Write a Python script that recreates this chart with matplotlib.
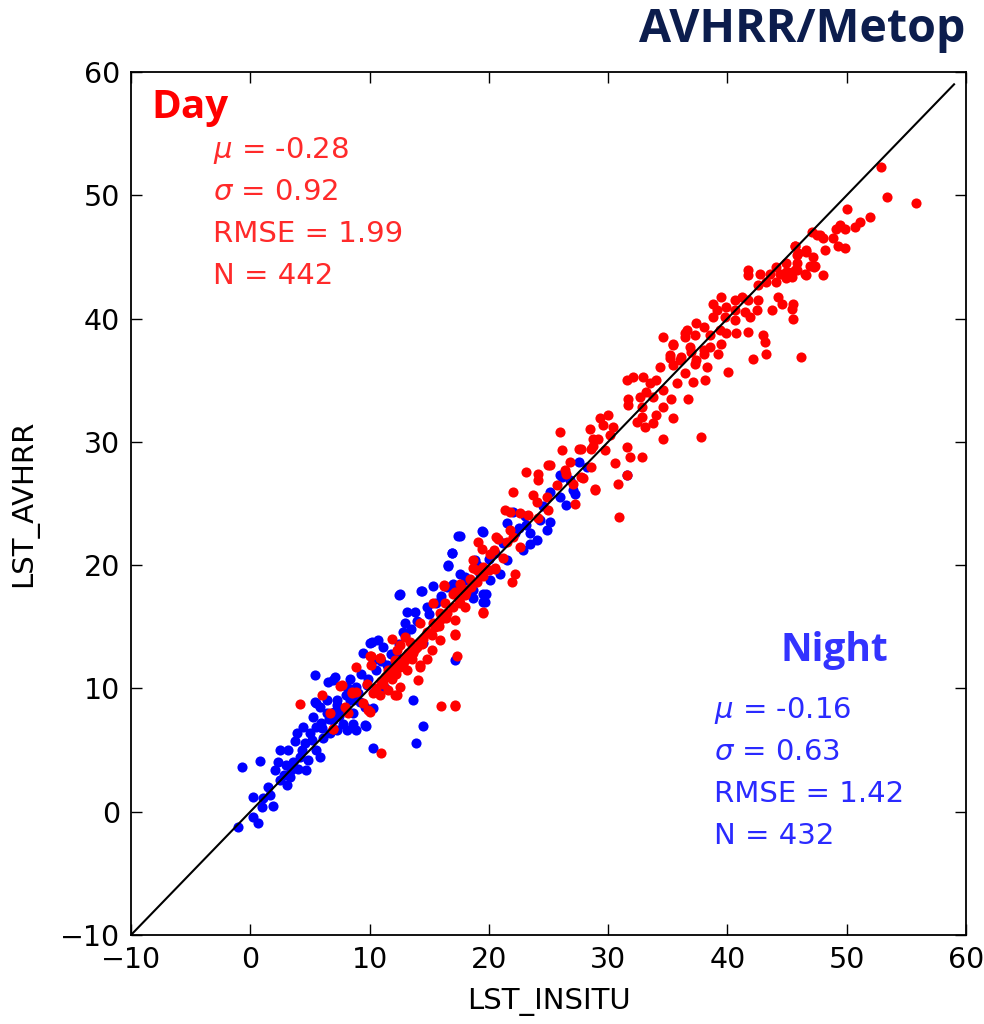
import matplotlib
matplotlib.use("Agg")
import matplotlib.pyplot as plt
import numpy as np

# day points (LST_INSITU, LST_AVHRR)
day_pts = [
    (4.15, 8.75), (6.05, 9.5), (6.7, 8.0), (6.95, 6.7), (7.5, 10.2), (8.2, 8.0), (8.5, 9.6),
    (8.9, 9.7), (9.45, 8.8), (10.0, 8.1), (9.75, 10.4), (10.3, 9.6), (16.0, 8.55), (17.2, 8.55),
    (11.0, 4.8), (17.3, 12.6), (17.15, 14.4), (14.1, 10.7), (14.2, 11.9), (19.55, 16.15),
    (20.5, 19.65), (19.1, 21.9), (20.6, 22.3), (16.2, 18.3), (12.3, 9.45), (8.9, 11.7),
    (6.95, 6.75), (9.9, 8.25), (10.15, 12.6), (10.9, 12.45), (11.9, 14.05),
    (16.2, 18.4), (19.5, 16.2), (17.15, 15.55), (17.15, 14.3), (15.9, 13.9), (15.2, 13.1),
    (14.8, 12.35), (14.2, 11.75), (12.1, 9.45), (17.15, 8.65), (10.0, 12.6), (10.85, 12.5),
    (10.15, 11.9), (8.5, 9.7), (7.65, 10.25), (7.95, 8.5), (10.85, 9.45), (11.15, 10.4),
    (11.85, 10.8), (13.1, 11.5), (12.95, 12.3), (13.65, 12.85), (14.2, 13.8), (14.8, 14.6),
    (14.2, 15.3), (15.35, 15.3), (15.9, 16.1), (16.3, 16.9), (15.35, 16.9), (17.0, 17.7),
    (17.85, 18.1), (17.55, 16.9), (18.0, 16.6), (18.4, 18.9), (19.0, 19.6), (12.3, 13.1),
    (12.55, 13.5), (13.4, 13.8), (12.95, 14.2), (11.55, 11.5), (12.1, 12.3), (12.55, 11.75),
    (13.4, 12.6), (11.55, 9.85), (12.55, 10.1),
    (12.0, 11.6), (12.5, 12.0), (13.0, 12.5), (13.5, 13.0), (14.0, 13.4), (14.5, 14.0),
    (15.0, 14.5), (15.5, 15.0), (16.0, 15.6), (16.5, 16.1), (17.0, 16.6), (17.5, 17.2),
    (18.0, 17.6), (18.5, 18.2), (19.0, 18.6), (19.5, 19.1), (20.0, 19.6), (10.5, 10.0),
    (11.0, 10.6), (11.5, 11.1), (12.8, 12.0), (13.2, 12.9), (13.8, 13.2), (14.4, 13.6),
    (15.2, 14.3), (15.8, 15.1), (16.4, 15.7), (11.3, 10.9), (12.2, 11.2), (13.6, 12.4),
    (26.1, 29.3), (27.6, 29.45), (28.75, 29.7), (25.0, 28.1), (26.5, 27.4), (23.15, 27.55),
    (24.15, 27.4), (24.15, 26.9), (25.7, 26.5), (27.9, 27.05), (28.9, 26.1), (22.0, 25.95),
    (23.7, 25.7), (24.0, 25.1), (24.85, 25.5), (27.05, 26.6), (27.2, 25.0), (21.35, 24.45),
    (21.8, 24.3), (22.6, 24.2), (23.3, 24.05), (24.15, 23.8), (25.0, 24.45), (21.8, 22.85),
    (20.8, 22.15), (19.4, 21.35), (20.4, 21.2), (21.5, 21.9), (22.6, 21.5), (22.05, 22.3),
    (18.7, 19.75), (19.55, 19.85), (20.5, 19.75), (21.2, 20.55), (22.2, 19.3), (21.9, 18.65),
    (17.55, 18.5), (18.1, 17.85), (20.1, 20.9), (18.7, 20.4), (17.15, 17.85),
    (34.6, 38.5), (36.45, 38.8), (35.45, 37.85), (36.85, 37.7), (35.2, 37.05), (36.15, 36.9),
    (37.4, 36.6), (38.0, 37.45), (34.35, 36.1), (35.45, 36.2), (36.45, 35.55), (37.15, 34.85),
    (38.1, 35.0), (31.55, 35.0), (32.1, 35.3), (32.95, 35.3), (33.5, 34.75), (34.05, 35.0),
    (34.6, 34.2), (35.75, 34.75), (33.2, 34.05), (33.8, 33.65), (31.7, 33.5), (31.7, 32.95),
    (32.65, 33.65), (32.8, 32.85), (35.3, 33.5), (36.7, 33.5), (34.6, 32.85), (32.8, 32.05),
    (34.05, 32.15), (35.45, 31.9), (33.8, 31.5), (33.1, 31.2), (32.4, 31.6), (34.6, 30.25),
    (37.8, 30.4), (29.3, 31.9), (30.0, 32.15), (29.6, 31.4), (30.4, 31.2), (28.45, 31.05),
    (30.15, 30.55), (29.15, 30.25), (25.95, 30.8), (27.75, 29.45), (28.6, 29.45),
    (29.75, 29.3), (28.75, 30.25), (31.55, 29.6), (31.85, 28.8), (32.8, 28.8), (30.55, 28.25),
    (28.6, 28.0), (26.8, 28.4), (26.4, 27.7), (27.75, 27.15), (30.85, 26.6), (25.1, 28.1),
    (28.9, 26.2), (31.55, 27.3), (30.9, 23.9),
    (47.5, 46.8), (45.65, 45.85), (46.6, 45.4), (47.2, 45.0), (47.35, 44.3), (45.95, 45.3),
    (45.8, 44.5), (44.95, 44.5), (44.1, 44.2), (43.55, 43.65), (44.4, 43.65), (45.1, 43.8),
    (45.65, 43.95), (46.5, 43.65), (42.7, 43.65), (41.75, 43.95), (41.75, 43.5), (43.25, 42.95),
    (44.1, 42.95), (44.95, 43.25), (42.55, 42.7), (41.2, 41.75), (40.6, 41.5), (41.75, 41.5),
    (42.55, 41.5), (39.5, 41.75), (44.25, 41.75), (44.55, 41.2), (45.5, 41.2), (45.4, 40.8),
    (43.7, 40.7), (45.5, 40.0), (38.8, 41.2), (39.1, 40.7), (39.9, 40.95), (40.6, 40.7),
    (41.45, 40.55), (42.45, 40.7), (38.8, 40.15), (39.8, 40.15), (40.6, 39.9), (41.9, 40.15),
    (37.4, 39.6), (38.0, 39.35), (36.6, 39.1), (36.45, 38.5), (37.25, 38.65), (38.5, 38.65),
    (39.35, 39.05), (39.9, 38.8), (40.75, 38.8), (41.75, 38.9), (43.0, 38.65), (43.15, 38.1),
    (39.5, 37.95), (38.5, 37.7), (39.2, 37.15), (38.0, 37.15), (36.95, 37.3), (35.45, 37.95),
    (36.0, 36.6), (37.25, 36.35), (38.25, 36.1), (43.25, 37.15), (42.15, 36.75), (40.05, 35.7),
    (46.2, 36.9), (35.2, 36.8),
    (52.9, 52.3), (53.35, 49.9), (55.85, 49.4), (50.0, 48.9), (51.95, 48.2), (51.1, 47.85),
    (50.7, 47.45), (49.4, 47.6), (49.85, 47.3), (49.1, 47.3), (47.05, 47.05), (47.75, 46.75),
    (48.05, 46.55), (48.85, 46.55), (45.65, 45.9), (49.3, 45.9), (49.85, 45.7), (48.2, 45.55),
    (45.8, 45.15), (46.6, 45.6), (46.9, 44.3), (47.3, 44.2), (44.95, 43.8), (45.8, 43.95),
    (46.6, 43.5), (48.05, 43.5), (45.4, 43.4),
]

# night points
night_pts = [
    (-0.72, 3.65), (0.81, 4.1), (-1.0, -1.2), (0.25, -0.4), (0.67, -0.9), (0.25, 1.2),
    (1.1, 1.1), (1.9, 0.5), (0.95, 0.4), (1.65, 1.35), (2.5, 2.6), (3.05, 2.2), (2.35, 4.05),
    (2.07, 3.4), (3.3, 2.85), (3.45, 3.4), (2.5, 5.0), (3.2, 5.0), (3.75, 5.7), (4.2, 4.45),
    (4.7, 3.4), (4.0, 3.5), (4.85, 4.2), (5.55, 5.0), (5.85, 4.45), (5.0, 6.35), (5.55, 6.9),
    (5.3, 7.7), (5.85, 8.5), (5.55, 8.8), (6.4, 9.05), (7.25, 8.65), (6.4, 8.0), (6.95, 7.45),
    (6.7, 6.35), (6.1, 5.95), (7.25, 6.6), (7.8, 7.15), (8.1, 6.6), (8.65, 7.15), (8.9, 6.6),
    (9.6, 7.0), (7.65, 8.25), (8.35, 9.05), (8.9, 10.1), (9.75, 10.3), (8.1, 10.1),
    (6.95, 10.7), (10.3, 5.15), (4.45, 6.9), (3.9, 6.35), (4.6, 5.6), (5.9, 7.2), (7.0, 8.1),
    (3.6, 4.0), (4.3, 5.0), (5.2, 5.8), (6.0, 6.8), (6.6, 7.5), (7.4, 7.8), (8.0, 8.4),
    (8.6, 8.0), (9.2, 8.9), (3.0, 3.8), (2.8, 3.0), (1.5, 2.0),
    (17.4, 22.4), (19.5, 22.7), (16.9, 21.0), (16.6, 19.9), (12.5, 17.6), (14.4, 17.9),
    (15.35, 18.3), (13.1, 16.2), (10.0, 13.65), (9.45, 12.85), (5.4, 11.1), (6.55, 10.55),
    (7.1, 10.95), (5.4, 8.9), (13.65, 9.05), (14.5, 6.95), (13.9, 5.55), (9.7, 6.95),
    (19.55, 17.0), (17.15, 12.3),
    (16.6, 20.0), (12.55, 17.7), (14.3, 17.9), (19.0, 20.0), (19.5, 17.7), (19.65, 17.0),
    (18.7, 17.3), (13.8, 16.2), (14.8, 16.6), (12.95, 15.3), (12.8, 14.6), (10.2, 13.8),
    (10.7, 13.9), (11.15, 13.4), (10.3, 12.3), (8.35, 10.8), (9.3, 11.2), (9.9, 10.8),
    (7.25, 9.05), (8.65, 9.05), (9.6, 8.5), (10.3, 8.4), (14.5, 13.65), (11.3, 10.0),
    (10.5, 11.5), (11.0, 12.2), (11.8, 12.8), (12.5, 13.6), (13.0, 14.3), (13.5, 14.8),
    (14.0, 15.5), (15.0, 16.0), (16.0, 17.5), (17.0, 18.5), (18.0, 19.0), (15.6, 16.9),
    (16.5, 18.2), (17.6, 19.3), (11.5, 11.9), (12.2, 12.6), (9.0, 9.6), (8.0, 9.5),
    (17.55, 22.4), (19.4, 22.8), (16.9, 20.95), (18.85, 20.4), (21.5, 23.4), (22.05, 24.35),
    (22.5, 23.0), (23.15, 23.25), (23.45, 22.6), (24.0, 22.05), (24.25, 23.65), (24.85, 22.85),
    (25.1, 23.5), (22.9, 21.2), (23.45, 21.75), (21.5, 20.4), (20.9, 19.3), (20.1, 18.8),
    (19.25, 19.3), (26.5, 24.9), (25.95, 25.55), (25.1, 25.95), (27.05, 26.1), (27.2, 25.8),
    (25.95, 27.3), (27.6, 28.4), (28.2, 28.0), (18.1, 18.8), (18.7, 18.0), (19.8, 17.7),
    (31.55, 27.3), (26.1, 27.15), (26.8, 26.9), (20.5, 21.0), (21.2, 21.8), (22.2, 22.6),
    (23.0, 24.0), (24.5, 24.8), (20.0, 20.5),
]

day_x = [p[0] for p in day_pts]
day_y = [p[1] for p in day_pts]
night_x = [p[0] for p in night_pts]
night_y = [p[1] for p in night_pts]

diag = [-10, 59]
ticks = [-10, 0, 10, 20, 30, 40, 50, 60]
day_stats = [r"$\mu$ = -0.28", r"$\sigma$ = 0.92", "RMSE = 1.99", "N = 442"]
night_stats = [r"$\mu$ = -0.16", r"$\sigma$ = 0.63", "RMSE = 1.42", "N = 432"]

plt.rcParams['mathtext.fontset'] = 'dejavusans'
fig = plt.figure(figsize=(9.84, 10.24), dpi=100)
ax = fig.add_axes([0.1331, 0.0869, 0.8486, 0.8428])

ax.plot(night_x, night_y, 'o', color='#0000ff', markersize=7.3, markeredgewidth=0)
ax.plot(day_x, day_y, 'o', color='#ff0000', markersize=7.3, markeredgewidth=0)
ax.plot(diag, diag, '-', color='black', linewidth=1.5)

ax.set_xlim(-10, 60)
ax.set_ylim(-10, 60)
ax.set_xticks(ticks)
ax.set_yticks(ticks)
ax.set_xticklabels(["\u221210" if t < 0 else str(t) for t in ticks])
ax.set_yticklabels(["\u221210" if t < 0 else str(t) for t in ticks])
ax.tick_params(direction='in', length=8, width=1, top=True, right=True,
               labelsize=20.5, pad=8)
for s in ax.spines.values():
    s.set_linewidth(1.3)
ax.set_xlabel("LST_INSITU", fontsize=21, labelpad=10)
ax.set_ylabel("LST_AVHRR", fontsize=21)
ax.yaxis.set_label_coords(-0.111, 0.5)

fig.text(0.981, 0.971, "AVHRR/Metop", ha='right', va='center', fontsize=33.5,
         fontweight='bold', color='#0c1d4d', family='Open Sans')
fig.text(0.154, 0.895, "Day", ha='left', va='center', fontsize=29,
         fontweight='bold', color='#ff0000', family='Open Sans')
fig.text(0.793, 0.365, "Night", ha='left', va='center', fontsize=28,
         fontweight='bold', color='#3333ff', family='Open Sans')

for i, s in enumerate(day_stats):
    fig.text(0.2165, 0.8535 - i * 0.041, s, ha='left', va='center', fontsize=21,
             color='#ff2a2a')
for i, s in enumerate(night_stats):
    fig.text(0.7256, 0.3066 - i * 0.041, s, ha='left', va='center', fontsize=21,
             color='#2a2aff')

fig.savefig("out.png", dpi=100)
